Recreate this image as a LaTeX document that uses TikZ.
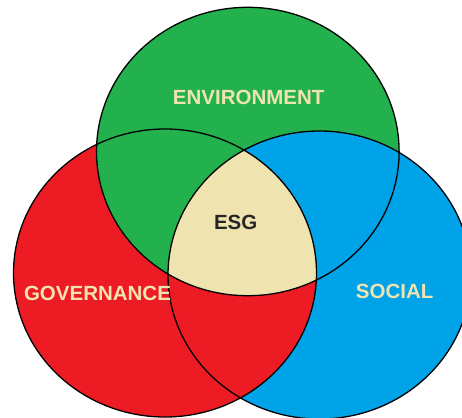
\documentclass[tikz,border=0pt]{standalone}
\usepackage{fontspec}
\setmainfont{Liberation Sans}
\definecolor{envgreen}{HTML}{22B14C}
\definecolor{govred}{HTML}{ED1C24}
\definecolor{socblue}{HTML}{00A2E8}
\definecolor{coretan}{HTML}{EFE4B0}
\definecolor{coretext}{HTML}{262626}
\begin{document}
\begin{tikzpicture}[x=1pt,y=-1pt,
  ring/.style={draw=black, line width=1.3pt},
  setlabel/.style={font=\fontsize{20.5}{24}\selectfont\bfseries, text=coretan, inner sep=0pt}]
\useasboundingbox (0,0) rectangle (462,417);
\clip (0,0) rectangle (462,417);
% centres of the three sets
\coordinate (g) at (247.8,151.5);
\coordinate (r) at (165,273);
\coordinate (b) at (319.5,275);
% base fills
\fill[govred]   (r) ellipse [x radius=151.5pt, y radius=144pt];
\fill[socblue]  (b) ellipse [x radius=151.5pt, y radius=144pt];
\fill[envgreen] (g) ellipse [x radius=151.3pt, y radius=144.2pt];
% pairwise overlaps
\begin{scope}
  \clip (r) ellipse [x radius=151.5pt, y radius=144pt];
  \fill[envgreen] (g) ellipse [x radius=151.3pt, y radius=144.2pt];
\end{scope}
\begin{scope}
  \clip (g) ellipse [x radius=151.3pt, y radius=144.2pt];
  \fill[socblue] (b) ellipse [x radius=151.5pt, y radius=144pt];
\end{scope}
\begin{scope}
  \clip (b) ellipse [x radius=151.5pt, y radius=144pt];
  \fill[govred] (r) ellipse [x radius=151.5pt, y radius=144pt];
\end{scope}
% common core
\begin{scope}
  \clip (r) ellipse [x radius=151.5pt, y radius=144pt];
  \clip (b) ellipse [x radius=151.5pt, y radius=144pt];
  \fill[coretan] (g) ellipse [x radius=151.3pt, y radius=144.2pt];
\end{scope}
% outlines
\draw[ring] (g) ellipse [x radius=151.3pt, y radius=144.2pt];
\draw[ring] (r) ellipse [x radius=151.5pt, y radius=144pt];
\draw[ring] (b) ellipse [x radius=151.5pt, y radius=144pt];
% labels
\node[setlabel] (env) at (248.7,97.2) {ENVIRONMENT};
\node[setlabel] (gov) at (97.5,293) {GOVERNANCE};
\node[setlabel] (soc) at (394.7,291.3) {SOCIAL};
\node[setlabel, text=coretext] (esg) at (235.7,222.8) {ESG};
\end{tikzpicture}
\end{document}
